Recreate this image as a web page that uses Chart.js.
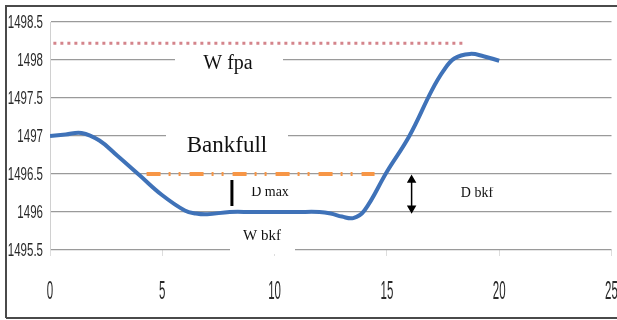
<!DOCTYPE html>
<html lang="en">
<head>
    <meta charset="UTF-8">
    <title>Bankfull cross-section</title>
    <script src="https://cdn.jsdelivr.net/npm/chart.js"></script>
    <style>
        body { margin: 0; background: #ffffff; }
        #wrap { width: 617px; height: 320px; }
    </style>
</head>
<body>
    <div id="wrap"><canvas id="perfil" width="617" height="320"></canvas></div>

    <script>
        // ground profile (distance, elevation)
        const distancia = [0, 0.7, 1.4, 2.2, 3, 4, 5, 6, 6.5, 7, 8, 9, 10, 11, 12, 12.5, 13, 13.5, 14, 15, 16, 17, 17.5, 18, 18.7, 19.3, 20];
        const cota = [1497, 1497.02, 1497.04, 1496.94, 1496.74, 1496.48, 1496.22, 1496.02, 1495.98, 1495.97, 1496.0, 1496.0, 1496.0, 1496.0, 1496.0, 1495.98, 1495.94, 1495.92, 1496.02, 1496.53, 1497.0, 1497.6, 1497.85, 1498.02, 1498.08, 1498.05, 1497.99];

        // reference levels
        const bankfullX = [4.3, 14.45];
        const bankfullY = [1496.5, 1496.5];
        const fpaX = [0.15, 18.5];
        const fpaY = [1498.22, 1498.22];
        const dmaxX = [8.1, 8.1];
        const dmaxY = [1496.42, 1496.08];
        const dbkfX = [16.1, 16.1];
        const dbkfY = [1496.42, 1496.05];

        const xTicks = [0, 5, 10, 15, 20, 25];
        const yTicks = [1495.5, 1496, 1496.5, 1497, 1497.5, 1498, 1498.5];
        const xTickLabels = ['0', '5', '10', '15', '20', '25'];
        const yTickLabels = ['1495.5', '1496', '1496.5', '1497', '1497.5', '1498', '1498.5'];

        function pares(xs, ys) {
            return xs.map((x, i) => ({ x: x, y: ys[i] }));
        }

        // white boxes behind the labels (they hide the gridlines)
        const cajas = {
            id: 'cajas',
            beforeDatasetsDraw(chart) {
                const ctx = chart.ctx;
                ctx.save();
                ctx.fillStyle = '#ffffff';
                ctx.fillRect(175, 50, 108, 26);
                ctx.fillRect(166, 125, 122, 33);
                ctx.fillRect(230, 226, 65, 28);
                ctx.restore();
            }
        };

        const textos = {
            id: 'textos',
            afterDraw(chart) {
                const ctx = chart.ctx;
                const sx = chart.scales.x, sy = chart.scales.y;
                ctx.save();

                // tick labels, narrow font
                ctx.fillStyle = '#2a2a2a';
                ctx.textBaseline = 'middle';
                ctx.font = '18px "Liberation Sans Narrow", "Liberation Sans"';
                ctx.textAlign = 'right';
                yTicks.forEach((v, i) => {
                    ctx.save();
                    ctx.translate(43, sy.getPixelForValue(v) + 1);
                    ctx.scale(0.64, 1);
                    ctx.fillText(yTickLabels[i], 0, 0);
                    ctx.restore();
                });
                ctx.font = '25px "Liberation Sans Narrow", "Liberation Sans"';
                ctx.textAlign = 'center';
                xTicks.forEach((v, i) => {
                    ctx.save();
                    ctx.translate(sx.getPixelForValue(v), 292);
                    ctx.scale(0.46, 1);
                    ctx.fillText(xTickLabels[i], 0, 0);
                    ctx.restore();
                });

                // annotations
                ctx.fillStyle = '#111111';
                ctx.textBaseline = 'alphabetic';
                ctx.textAlign = 'center';
                ctx.font = '20px "Liberation Serif"';
                ctx.fillText('W fpa', 228, 69);
                ctx.font = '23px "Liberation Serif"';
                ctx.fillText('Bankfull', 227, 152);
                ctx.font = '15px "Liberation Serif"';
                ctx.fillText('W bkf', 262, 240);

                ctx.save();
                ctx.beginPath();
                ctx.rect(0, 187, 617, 20);
                ctx.clip();
                ctx.font = '14px "Liberation Serif"';
                ctx.fillText('D max', 270, 196);
                ctx.fillText('D bkf', 477, 197);
                ctx.restore();

                // frame
                ctx.strokeStyle = '#4a4a4a';
                ctx.lineWidth = 2;
                ctx.beginPath();
                ctx.moveTo(6, 318);
                ctx.lineTo(6, 6);
                ctx.lineTo(617, 6);
                ctx.moveTo(6, 318);
                ctx.lineTo(617, 318);
                ctx.stroke();
                ctx.restore();
            }
        };

        new Chart(document.getElementById('perfil'), {
            type: 'line',
            data: {
                datasets: [
                    {
                        data: pares(fpaX, fpaY),
                        borderColor: '#d4848b',
                        borderWidth: 3,
                        borderDash: [3, 4],
                        pointRadius: 0
                    },
                    {
                        data: pares(bankfullX, bankfullY),
                        borderColor: '#f79646',
                        borderWidth: 4,
                        borderDash: [14, 8, 2, 8, 2, 9],
                        pointRadius: 0
                    },
                    {
                        data: pares(distancia, cota),
                        borderColor: '#3f72b8',
                        borderWidth: 4,
                        tension: 0.4,
                        pointRadius: 0
                    },
                    {
                        data: pares(dmaxX, dmaxY),
                        borderColor: '#000000',
                        borderWidth: 3,
                        pointRadius: 0
                    },
                    {
                        data: pares(dbkfX, dbkfY),
                        borderColor: '#000000',
                        backgroundColor: '#000000',
                        borderWidth: 1.5,
                        pointStyle: 'triangle',
                        pointRadius: 4,
                        pointRotation: [0, 180]
                    }
                ]
            },
            options: {
                responsive: false,
                animation: false,
                layout: { padding: { left: 50, right: 4, top: 22, bottom: 64 } },
                plugins: {
                    legend: { display: false },
                    tooltip: { enabled: false }
                },
                scales: {
                    x: {
                        type: 'linear',
                        min: 0,
                        max: 25,
                        afterBuildTicks: s => { s.ticks = xTicks.map(v => ({ value: v })); },
                        ticks: { display: false },
                        grid: { drawOnChartArea: false, drawTicks: true, tickLength: 6, color: '#dddddd' },
                        border: { display: false }
                    },
                    y: {
                        min: 1495.5,
                        max: 1498.5,
                        afterBuildTicks: s => { s.ticks = yTicks.map(v => ({ value: v })); },
                        ticks: { display: false },
                        grid: { drawTicks: false, color: '#9a9a9a', lineWidth: 1.3 },
                        border: { display: true, color: '#d0d0d0', width: 1 }
                    }
                }
            },
            plugins: [cajas, textos]
        });
    </script>
</body>
</html>
